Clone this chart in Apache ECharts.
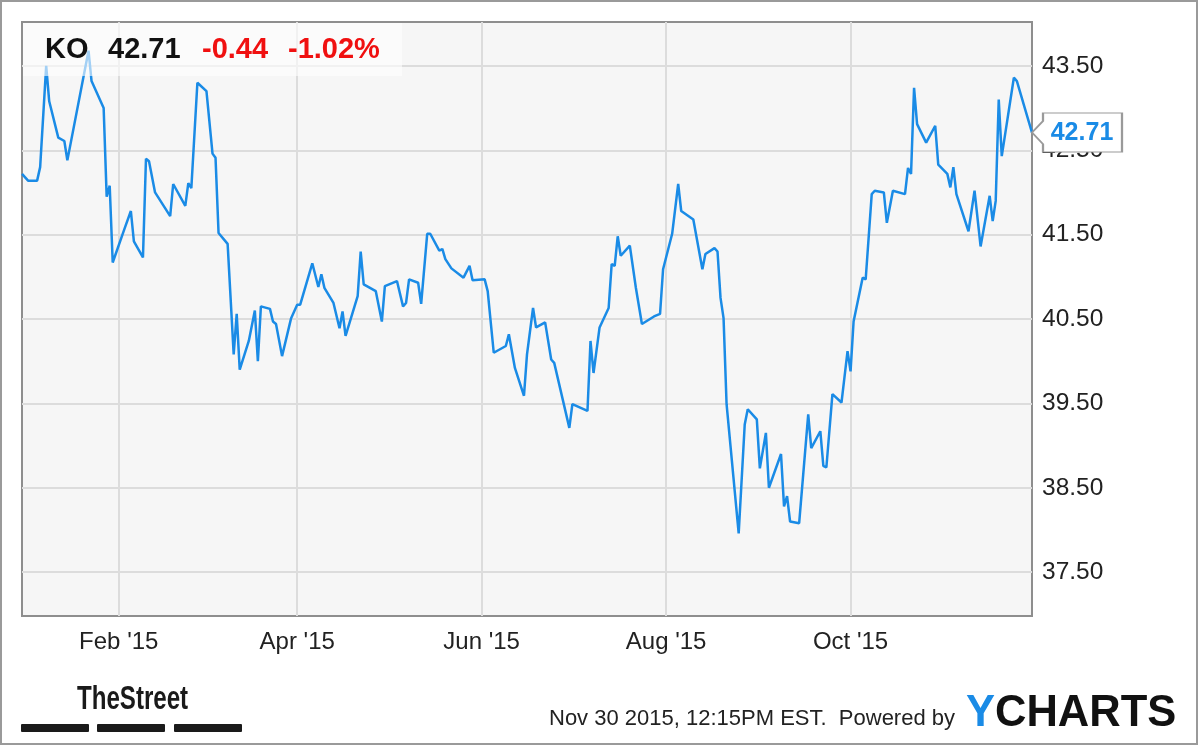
<!DOCTYPE html>
<html><head><meta charset="utf-8">
<script src="https://cdn.jsdelivr.net/npm/echarts@6/dist/echarts.min.js"></script>
<style>html,body{margin:0;padding:0;background:#fff}#c{width:1200px;height:747px}</style>
</head><body><div id="c"></div>
<script>
const dates = ['2014-12-31','2015-01-02','2015-01-05','2015-01-06','2015-01-08','2015-01-09','2015-01-12','2015-01-14','2015-01-15','2015-01-22','2015-01-23','2015-01-27','2015-01-28','2015-01-29','2015-01-30','2015-02-03','2015-02-05','2015-02-06','2015-02-09','2015-02-10','2015-02-11','2015-02-13','2015-02-18','2015-02-19','2015-02-23','2015-02-24','2015-02-25','2015-02-27','2015-03-02','2015-03-04','2015-03-05','2015-03-06','2015-03-09','2015-03-11','2015-03-12','2015-03-13','2015-03-16','2015-03-18','2015-03-19','2015-03-20','2015-03-23','2015-03-24','2015-03-25','2015-03-27','2015-03-30','2015-04-01','2015-04-02','2015-04-06','2015-04-08','2015-04-09','2015-04-10','2015-04-13','2015-04-15','2015-04-16','2015-04-17','2015-04-21','2015-04-22','2015-04-23','2015-04-27','2015-04-29','2015-04-30','2015-05-04','2015-05-06','2015-05-07','2015-05-08','2015-05-11','2015-05-12','2015-05-14','2015-05-15','2015-05-18','2015-05-19','2015-05-20','2015-05-22','2015-05-26','2015-05-28','2015-05-29','2015-06-02','2015-06-03','2015-06-05','2015-06-09','2015-06-10','2015-06-12','2015-06-15','2015-06-16','2015-06-18','2015-06-19','2015-06-22','2015-06-24','2015-06-25','2015-06-30','2015-07-01','2015-07-06','2015-07-07','2015-07-08','2015-07-10','2015-07-13','2015-07-14','2015-07-15','2015-07-16','2015-07-17','2015-07-20','2015-07-22','2015-07-24','2015-07-28','2015-07-30','2015-07-31','2015-08-03','2015-08-05','2015-08-06','2015-08-10','2015-08-13','2015-08-14','2015-08-17','2015-08-18','2015-08-19','2015-08-20','2015-08-21','2015-08-25','2015-08-27','2015-08-28','2015-08-31','2015-09-01','2015-09-03','2015-09-04','2015-09-08','2015-09-09','2015-09-10','2015-09-11','2015-09-14','2015-09-17','2015-09-18','2015-09-21','2015-09-22','2015-09-23','2015-09-25','2015-09-28','2015-09-30','2015-10-01','2015-10-02','2015-10-05','2015-10-06','2015-10-08','2015-10-09','2015-10-12','2015-10-13','2015-10-15','2015-10-19','2015-10-20','2015-10-21','2015-10-22','2015-10-23','2015-10-26','2015-10-29','2015-10-30','2015-11-02','2015-11-03','2015-11-04','2015-11-05','2015-11-09','2015-11-11','2015-11-13','2015-11-16','2015-11-17','2015-11-18','2015-11-19','2015-11-20','2015-11-24','2015-11-25','2015-11-30'];
const prices = [42.22,42.14,42.14,42.30,43.50,43.08,42.65,42.61,42.38,43.68,43.32,43.00,41.95,42.08,41.17,41.58,41.78,41.42,41.23,42.40,42.37,42.00,41.72,42.10,41.84,42.11,42.05,43.30,43.20,42.46,42.41,41.52,41.39,40.08,40.56,39.90,40.24,40.60,40.00,40.65,40.62,40.47,40.44,40.06,40.51,40.67,40.67,41.16,40.88,41.03,40.87,40.69,40.39,40.59,40.30,40.77,41.30,40.91,40.83,40.47,40.89,40.95,40.65,40.69,40.97,40.93,40.68,41.51,41.51,41.31,41.33,41.21,41.10,40.99,41.13,40.96,40.97,40.83,40.10,40.18,40.32,39.92,39.59,40.08,40.63,40.40,40.46,40.02,39.98,39.21,39.49,39.41,40.24,39.86,40.40,40.63,41.15,41.13,41.48,41.25,41.37,40.87,40.44,40.53,40.56,41.09,41.51,42.10,41.78,41.68,41.09,41.27,41.34,41.30,40.75,40.51,39.49,37.96,39.25,39.43,39.31,38.73,39.15,38.50,38.90,38.28,38.40,38.10,38.08,39.37,38.97,39.17,38.76,38.74,39.61,39.51,40.12,39.88,40.47,40.99,40.97,41.98,42.02,42.00,41.64,42.02,41.98,42.29,42.22,43.24,42.81,42.59,42.79,42.33,42.22,42.06,42.30,41.98,41.54,42.02,41.36,41.96,41.66,41.90,43.10,42.43,43.36,43.32,42.71];
const xTickDates = ['2015-02-01','2015-04-01','2015-06-01','2015-08-01','2015-10-01'];
const monthNames = ['Jan','Feb','Mar','Apr','May','Jun','Jul','Aug','Sep','Oct','Nov','Dec'];
const yTickValues = [37.5,38.5,39.5,40.5,41.5,42.5,43.5];
const ticker = 'KO';
const lastPrice = '42.71';
const change = '-0.44';
const changePct = '-1.02%';
const footerText = 'Nov 30 2015, 12:15PM EST.  Powered by';

const BLUE = '#1a8be6';
const FONT = '"Liberation Sans", Arial, sans-serif';
const toTs = s => { const p = s.split('-').map(Number); return Date.UTC(p[0], p[1]-1, p[2]); };
const seriesData = dates.map((d, i) => [toTs(d), prices[i]]);
const xTicks = xTickDates.map(toTs);
const last = seriesData[seriesData.length - 1];

const chart = echarts.init(document.getElementById('c'), null, {renderer: 'canvas'});
chart.setOption({
  animation: false,
  backgroundColor: '#fff',
  grid: {left: 22, right: 168, top: 22, bottom: 131, show: true, backgroundColor: '#f6f6f6', borderColor: '#8e8e8e', borderWidth: 2},
  xAxis: {
    type: 'value', min: seriesData[0][0], max: last[0],
    axisLine: {show: false},
    axisTick: {show: false, customValues: xTicks},
    axisLabel: {customValues: xTicks, margin: 14, fontSize: 24, color: '#222', fontFamily: FONT,
      formatter: v => { const d = new Date(v); return monthNames[d.getUTCMonth()] + " '" + String(d.getUTCFullYear()).slice(2); }},
    splitLine: {show: true, lineStyle: {color: '#dcdcdc', width: 2}}
  },
  yAxis: {
    type: 'value', position: 'right', min: 36.98, max: 44.02,
    axisLine: {show: false},
    axisTick: {show: false, customValues: yTickValues},
    axisLabel: {customValues: yTickValues, margin: 10, fontSize: 24.5, color: '#222', fontFamily: FONT, formatter: v => v.toFixed(2)},
    splitLine: {show: true, lineStyle: {color: '#dcdcdc', width: 2}}
  },
  series: [{
    type: 'line', data: seriesData, showSymbol: false, symbol: 'none',
    lineStyle: {color: BLUE, width: 2.5}, itemStyle: {color: BLUE}, z: 3,
    markPoint: {
      silent: true,
      symbol: 'path://M0,19.5 L11,8 L11,0 L90,0 L90,39 L11,39 L11,31 Z',
      symbolSize: [90, 39], symbolKeepAspect: false,
      symbolOffset: ['50%', 0],
      itemStyle: {color: '#fff', borderColor: '#9a9a9a', borderWidth: 1.5},
      label: {show: true, position: 'inside', offset: [5, 1], color: BLUE, fontSize: 25, fontWeight: 'bold', fontFamily: FONT, formatter: () => lastPrice},
      data: [{coord: last}]
    }
  }],
  graphic: [
    {type: 'rect', z: 100, shape: {x: 1, y: 1, width: 1196, height: 743}, style: {fill: 'none', stroke: '#9a9a9a', lineWidth: 2}},
    {type: 'rect', z: 100, shape: {x: 23, y: 23, width: 379, height: 53}, style: {fill: 'rgba(255,255,255,0.6)'}},
    {type: 'text', z: 101, x: 45, y: 50, style: {text: ticker, fill: '#111', font: 'bold 29px ' + FONT, verticalAlign: 'middle'}},
    {type: 'text', z: 101, x: 108, y: 50, style: {text: lastPrice, fill: '#111', font: 'bold 29px ' + FONT, verticalAlign: 'middle'}},
    {type: 'text', z: 101, x: 202, y: 50, style: {text: change, fill: '#f01010', font: 'bold 29px ' + FONT, verticalAlign: 'middle'}},
    {type: 'text', z: 101, x: 288, y: 50, style: {text: changePct, fill: '#f01010', font: 'bold 29px ' + FONT, verticalAlign: 'middle'}},
    {type: 'text', z: 101, x: 77, y: 700, scaleX: 0.73, style: {text: 'TheStreet', fill: '#1a1a1a', font: 'bold 33px ' + FONT, verticalAlign: 'middle'}},
    {type: 'rect', z: 101, shape: {x: 21, y: 724, width: 68, height: 8, r: 1}, style: {fill: '#1a1a1a'}},
    {type: 'rect', z: 101, shape: {x: 97, y: 724, width: 68, height: 8, r: 1}, style: {fill: '#1a1a1a'}},
    {type: 'rect', z: 101, shape: {x: 174, y: 724, width: 68, height: 8, r: 1}, style: {fill: '#1a1a1a'}},
    {type: 'text', z: 101, x: 549, y: 719, style: {text: footerText, fill: '#222', font: '22px ' + FONT, verticalAlign: 'middle'}},
    {type: 'text', z: 101, x: 966, y: 714, style: {text: '{a|Y}{b|CHARTS}', font: 'bold 43.5px ' + FONT, verticalAlign: 'middle',
      rich: {a: {fill: BLUE, font: 'bold 43.5px ' + FONT}, b: {fill: '#111', font: 'bold 43.5px ' + FONT}}}}
  ]
});
</script></body></html>
